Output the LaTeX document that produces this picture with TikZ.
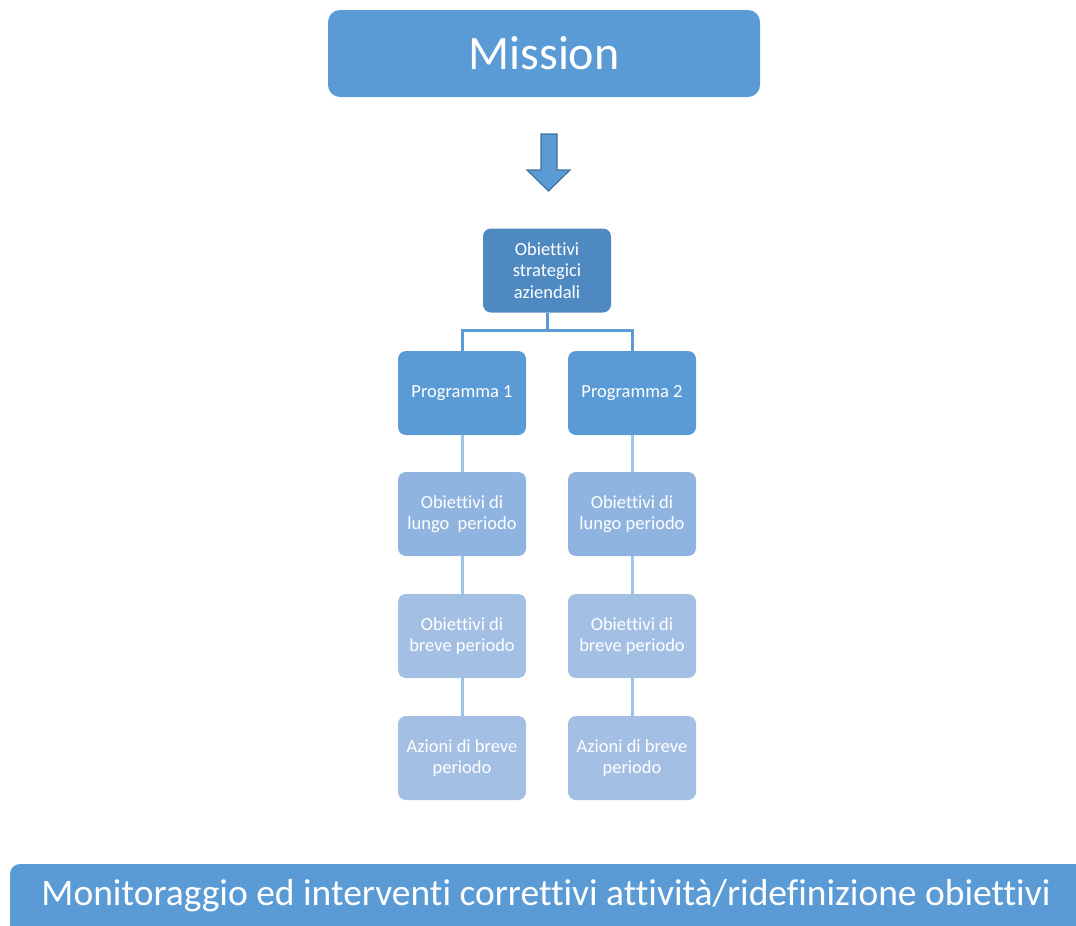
\documentclass[tikz,border=0pt]{standalone}
\usepackage{fontspec}
\setmainfont{Carlito}[Ligatures=NoCommon]
\definecolor{accentblue}{HTML}{5B9BD5}
\definecolor{darkblue}{HTML}{4F89C2}
\definecolor{edgeblue}{HTML}{41719C}
\definecolor{tintblue}{HTML}{8FB4DF}
\definecolor{paleblue}{HTML}{A3BFE3}
\definecolor{linkblue}{HTML}{9DC3E6}
\tikzset{
  box/.style={rounded corners=8pt, minimum width=128pt, minimum height=84pt,
    inner sep=2pt, align=center, text=white,
    font=\fontsize{18.5}{21.5}\selectfont},
  toplink/.style={accentblue, line width=3pt},
  sublink/.style={linkblue, line width=3pt}
}
\begin{document}
\begin{tikzpicture}[x=1pt,y=-1pt]
        \useasboundingbox (0,0) rectangle (1076,926);
        % Mission
        \node[fill=accentblue, rounded corners=12pt, minimum width=432pt, minimum height=87pt,
          text=white, font=\fontsize{48}{56}\selectfont] (mission) at (544,53.5) {Mission};
        % Block arrow
        \filldraw[fill=accentblue, draw=edgeblue, line width=1.2pt, line join=miter]
          (541,134) -- (557,134) -- (557,170) -- (570,170) -- (548.5,191)
          -- (527,170) -- (541,170) -- cycle;
        % Strategic objectives
        \node[box, fill=darkblue] (strat) at (547,270.5) {Obiettivi\\strategici\\aziendali};
        % Programmes
        \node[box, fill=accentblue] (prog1) at (462,393) {Programma 1};
        \node[box, fill=accentblue] (prog2) at (632,393) {Programma 2};
        % Long term objectives
        \node[box, fill=tintblue] (lungo1) at (462,514) {Obiettivi di\\lungo\ \ periodo};
        \node[box, fill=tintblue] (lungo2) at (632,514) {Obiettivi di\\lungo periodo};
        % Short term objectives
        \node[box, fill=paleblue] (breve1) at (462,636) {Obiettivi di\\breve periodo};
        \node[box, fill=paleblue] (breve2) at (632,636) {Obiettivi di\\breve periodo};
        % Actions
        \node[box, fill=paleblue] (azioni1) at (462,758) {Azioni di breve\\periodo};
        \node[box, fill=paleblue] (azioni2) at (632,758) {Azioni di breve\\periodo};
        % Connectors
        \draw[toplink] (strat.south) -- ++(0,18) -| (prog1.north);
        \draw[toplink] (strat.south) -- ++(0,18) -| (prog2.north);
        \draw[sublink] (prog1) -- (lungo1);
        \draw[sublink] (lungo1) -- (breve1);
        \draw[sublink] (breve1) -- (azioni1);
        \draw[sublink] (prog2) -- (lungo2);
        \draw[sublink] (lungo2) -- (breve2);
        \draw[sublink] (breve2) -- (azioni2);
        % Monitoring bar
        \begin{scope}
            \clip (0,0) rectangle (1076,926);
            \fill[accentblue, rounded corners=10pt] (10,864) rectangle (1100,950);
        \end{scope}
        \node[text=white, font=\fontsize{37.5}{44}\selectfont, inner sep=0pt] (monitor) at (546,896)
          {Monitoraggio ed interventi correttivi attività/ridefinizione obiettivi};
    \end{tikzpicture}
\end{document}
